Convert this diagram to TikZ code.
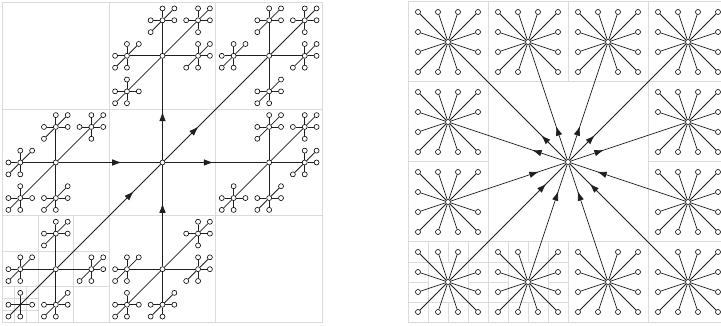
\documentclass[tikz,border=0pt]{standalone}
\usetikzlibrary{arrows.meta,decorations.markings}
\tikzset{
  gridline/.style={draw=black!14, line width=1pt},
  edge/.style={draw=black!88, line width=0.75pt},
  vtx/.style={circle, draw=black, fill=white, line width=0.6pt, inner sep=0pt, minimum size=5pt},
  arrowat/.style={postaction={decorate}, decoration={markings, mark=at position #1 with {\arrow{Latex[length=9.5pt,width=6.5pt]}}}},
}
\begin{document}
\begin{tikzpicture}[x=1pt,y=-1pt]
\useasboundingbox (0,0) rectangle (721,326);
\clip (0,0) rectangle (721,326);
% ---------------- left panel grid ----------------
\draw[gridline] (2.5,2.5) rectangle (322.5,322.5);
\foreach \t in {109.17,215.83} {
  \draw[gridline] (\t,2.5) -- (\t,322.5);
  \draw[gridline] (2.5,\t) -- (322.5,\t);
}
\foreach \t in {38.06,73.61} \draw[gridline] (\t,215.83) -- (\t,322.5);
\foreach \t in {251.39,286.94} \draw[gridline] (2.5,\t) -- (109.17,\t);
\foreach \t in {14.35,26.20} \draw[gridline] (\t,286.94) -- (\t,322.5);
\foreach \t in {298.79,310.65} \draw[gridline] (2.5,\t) -- (38.06,\t);
% ---------------- right panel grid ----------------
\draw[gridline] (408,2) rectangle (728,322);
\foreach \t in {488,648} \draw[gridline] (\t,2) -- (\t,322);
\foreach \t in {82,242} \draw[gridline] (408,\t) -- (728,\t);
\draw[gridline] (568,2) -- (568,82);
\draw[gridline] (568,242) -- (568,322);
\draw[gridline] (408,162) -- (488,162);
\draw[gridline] (648,162) -- (728,162);
\foreach \x in {408,488} {
  \def\y{242}
  \draw[gridline] (\x+20,\y) -- (\x+20,\y+80);
  \draw[gridline] (\x+60,\y) -- (\x+60,\y+80);
  \draw[gridline] (\x+40,\y) -- (\x+40,\y+20);
  \draw[gridline] (\x+40,\y+60) -- (\x+40,\y+80);
  \draw[gridline] (\x,\y+20) -- (\x+80,\y+20);
  \draw[gridline] (\x,\y+60) -- (\x+80,\y+60);
  \draw[gridline] (\x,\y+40) -- (\x+20,\y+40);
  \draw[gridline] (\x+60,\y+40) -- (\x+80,\y+40);
}
% ---------------- left panel tree ----------------
\node[vtx] (LR) at (162.5,162.5) {};
\foreach \ax/\ay/\dout [count=\i] in {0/-1/1,1/-1/1,-1/0/0,1/0/1,-1/1/0,0/1/0} {
  \node[vtx] (L\i) at ({162.5+\ax*106.667},{162.5+\ay*106.667}) {};
  \ifnum\dout=1
    \draw[edge, arrowat=48pt] (LR) -- (L\i);
  \else
    \draw[edge, arrowat=-38pt] (L\i) -- (LR);
  \fi
  \foreach \bx/\by [count=\j] in {0/-1,1/-1,-1/0,1/0,-1/1,0/1} {
    \def\skp{0}
    \ifnum\numexpr\ax+\bx\relax=0 \ifnum\numexpr\ay+\by\relax=0 \def\skp{1}\fi\fi
    \ifnum\skp=0
      \def\spc{0}
      \ifnum\i=5 \ifnum\j=5 \def\spc{1}\fi\fi
      \ifnum\spc=1
        \coordinate (L\i-\j) at ({162.5+\ax*106.667+\bx*35.556},{162.5+\ay*106.667+\by*35.556});
      \else
        \node[vtx] (L\i-\j) at ({162.5+\ax*106.667+\bx*35.556},{162.5+\ay*106.667+\by*35.556}) {};
      \fi
      \draw[edge] (L\i) -- (L\i-\j);
      \foreach \cx/\cy [count=\k] in {0/-1,1/-1,-1/0,1/0,-1/1,0/1} {
        \def\skq{0}
        \ifnum\numexpr\bx+\cx\relax=0 \ifnum\numexpr\by+\cy\relax=0 \def\skq{1}\fi\fi
        \ifnum\skq=0
          \node[vtx] (L\i-\j-\k) at ({162.5+\ax*106.667+\bx*35.556+\cx*11.852},{162.5+\ay*106.667+\by*35.556+\cy*11.852}) {};
          \draw[edge] (L\i-\j) -- (L\i-\j-\k);
        \fi
      }
    \fi
  }
}
% ---------------- right panel tree ----------------
\node[vtx] (RR) at (568,162) {};
\foreach \a/\b [count=\i] in {-3/-3,-1/-3,1/-3,3/-3,-3/-1,3/-1,-3/1,3/1,-3/3,-1/3,1/3,3/3} {
  \node[vtx] (R\i) at ({568+40*\a},{162+40*\b}) {};
  \ifnum\b<0
    \draw[edge, arrowat=35pt] (RR) -- (R\i);
  \else
    \draw[edge, arrowat=-28pt] (R\i) -- (RR);
  \fi
  \foreach \c/\d [count=\k] in {-3/-3,-1/-3,1/-3,3/-3,-3/-1,3/-1,-3/1,3/1,-3/3,-1/3,1/3,3/3} {
    \def\skr{0}
    \ifnum\numexpr\a+\c\relax=0 \ifnum\numexpr\b+\d\relax=0 \def\skr{1}\fi\fi
    \ifnum\skr=0
      \node[vtx] (R\i-\k) at ({568+40*\a+10*\c},{162+40*\b+10*\d}) {};
      \draw[edge] (R\i) -- (R\i-\k);
    \fi
  }
}
\end{tikzpicture}
\end{document}
